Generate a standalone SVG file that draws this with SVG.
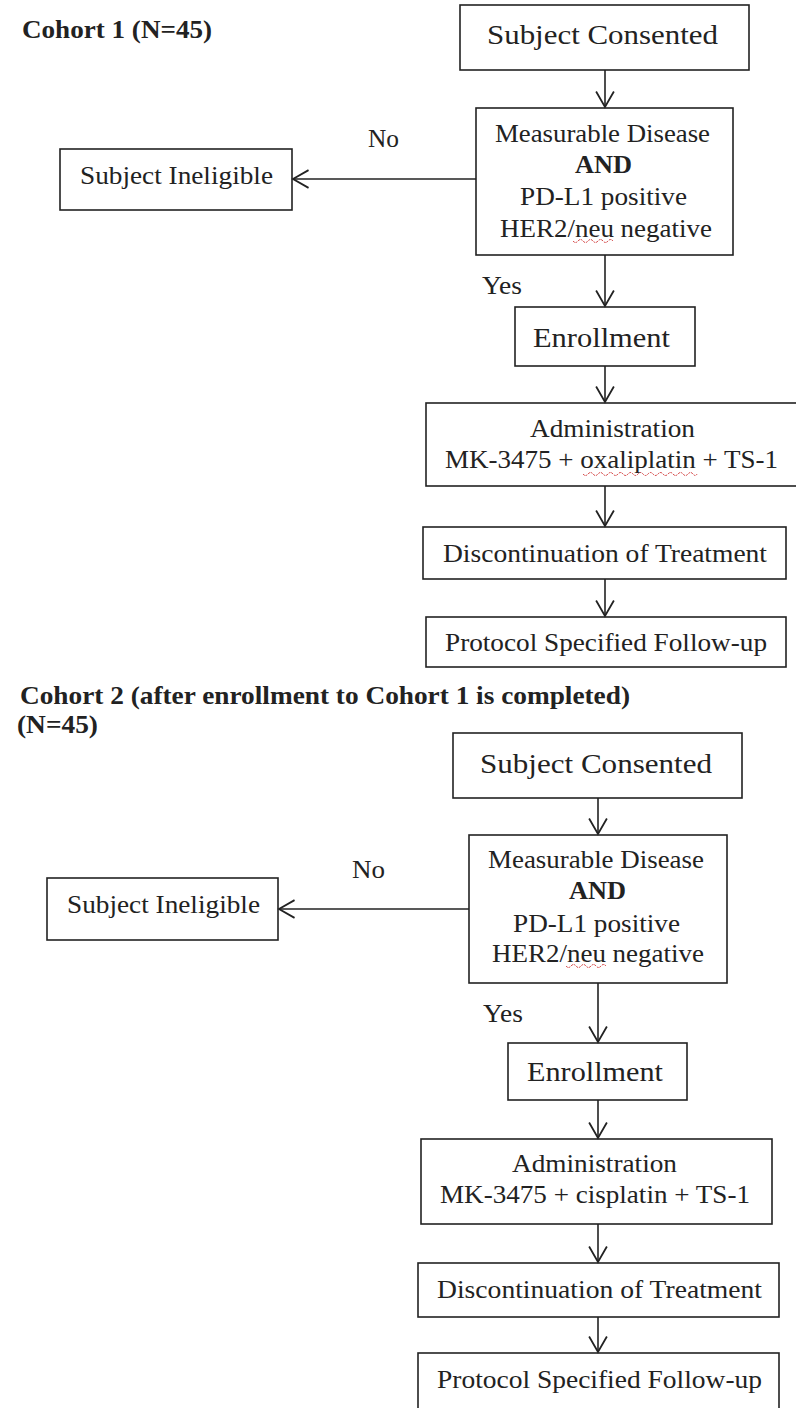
<svg xmlns="http://www.w3.org/2000/svg" width="796" height="1408" viewBox="0 0 796 1408">
<style>
  .box{fill:#fff;stroke:#222;stroke-width:1.6}
  .t{font-family:"Liberation Serif","Times New Roman",serif;font-size:26px;fill:#222}
  .big{font-size:28px}
  .b{font-weight:bold}
  .title{font-family:"Liberation Serif","Times New Roman",serif;font-size:26px;font-weight:bold;fill:#222}
  .c{fill:none;stroke:#222;stroke-width:1.6}
  .sq{fill:none;stroke:#d23a3a;stroke-width:1;stroke-dasharray:2 1}
</style>
<defs>
  <marker id="v" markerUnits="userSpaceOnUse" markerWidth="20" markerHeight="20" viewBox="0 0 16 18" refX="15" refY="9" orient="auto">
    <path d="M1,1 L15,9 L1,17" fill="none" stroke="#222" stroke-width="1.6"/>
  </marker>
</defs>
<rect width="796" height="1408" fill="#fff"/>

<!-- Cohort 1 -->
<g id="title1"><text class="title" x="22" y="38" textLength="190" lengthAdjust="spacingAndGlyphs">Cohort 1 (N=45)</text></g>

<g id="c1-consent">
  <rect class="box" x="460" y="5" width="289" height="65"/>
  <text class="t big" x="487" y="44" textLength="231" lengthAdjust="spacingAndGlyphs">Subject Consented</text>
</g>
<g id="c1-criteria">
  <rect class="box" x="476" y="108" width="257" height="147"/>
  <text class="t" x="495" y="142" textLength="215" lengthAdjust="spacingAndGlyphs">Measurable Disease</text>
  <text class="t b" x="575" y="173" textLength="57" lengthAdjust="spacingAndGlyphs">AND</text>
  <text class="t" x="520" y="205" textLength="167" lengthAdjust="spacingAndGlyphs">PD-L1 positive</text>
  <text class="t" x="500" y="237" textLength="212" lengthAdjust="spacingAndGlyphs">HER2/neu negative</text>
  <path class="sq" d="M573,241 q2.5,3 5,0 t5,0 t5,0 t5,0 t5,0 t5,0 t5,0 t5,0"/>
</g>
<g id="c1-ineligible">
  <rect class="box" x="60" y="149" width="232" height="61"/>
  <text class="t" x="80" y="184" textLength="193" lengthAdjust="spacingAndGlyphs">Subject Ineligible</text>
</g>
<g id="c1-enroll">
  <rect class="box" x="515" y="307" width="180" height="59"/>
  <text class="t big" x="533" y="347" textLength="137" lengthAdjust="spacingAndGlyphs">Enrollment</text>
</g>
<g id="c1-admin">
  <rect class="box" x="426" y="403" width="372" height="83"/>
  <text class="t" x="530" y="437" textLength="165" lengthAdjust="spacingAndGlyphs">Administration</text>
  <text class="t" x="445" y="468" textLength="333" lengthAdjust="spacingAndGlyphs">MK-3475 + oxaliplatin + TS-1</text>
  <path class="sq" d="M583,474 q2.5,3 5,0 t5,0 t5,0 t5,0 t5,0 t5,0 t5,0 t5,0 t5,0 t5,0 t5,0 t5,0 t5,0 t5,0 t5,0 t5,0 t5,0 t5,0 t5,0 t5,0 t5,0 t5,0 t4,0"/>
</g>
<g id="c1-discont">
  <rect class="box" x="423" y="527" width="363" height="52"/>
  <text class="t" x="443" y="562" textLength="324" lengthAdjust="spacingAndGlyphs">Discontinuation of Treatment</text>
</g>
<g id="c1-followup">
  <rect class="box" x="426" y="617" width="360" height="50"/>
  <text class="t" x="445" y="651" textLength="322" lengthAdjust="spacingAndGlyphs">Protocol Specified Follow-up</text>
</g>

<!-- Cohort 2 -->
<g id="title2">
  <text class="title" x="20" y="704" textLength="610" lengthAdjust="spacingAndGlyphs">Cohort 2 (after enrollment to Cohort 1 is completed)</text>
  <text class="title" x="17" y="733" textLength="81" lengthAdjust="spacingAndGlyphs">(N=45)</text>
</g>
<g id="c2-consent">
  <rect class="box" x="453" y="733" width="289" height="65"/>
  <text class="t big" x="480" y="773" textLength="232" lengthAdjust="spacingAndGlyphs">Subject Consented</text>
</g>
<g id="c2-criteria">
  <rect class="box" x="469" y="835" width="258" height="148"/>
  <text class="t" x="488" y="868" textLength="216" lengthAdjust="spacingAndGlyphs">Measurable Disease</text>
  <text class="t b" x="569" y="899" textLength="57" lengthAdjust="spacingAndGlyphs">AND</text>
  <text class="t" x="513" y="932" textLength="167" lengthAdjust="spacingAndGlyphs">PD-L1 positive</text>
  <text class="t" x="492" y="962" textLength="212" lengthAdjust="spacingAndGlyphs">HER2/neu negative</text>
  <path class="sq" d="M566,966 q2.5,3 5,0 t5,0 t5,0 t5,0 t5,0 t5,0 t5,0 t5,0"/>
</g>
<g id="c2-ineligible">
  <rect class="box" x="47" y="878" width="231" height="62"/>
  <text class="t" x="67" y="913" textLength="193" lengthAdjust="spacingAndGlyphs">Subject Ineligible</text>
</g>
<g id="c2-enroll">
  <rect class="box" x="508" y="1043" width="179" height="57"/>
  <text class="t big" x="527" y="1081" textLength="136" lengthAdjust="spacingAndGlyphs">Enrollment</text>
</g>
<g id="c2-admin">
  <rect class="box" x="421" y="1139" width="351" height="85"/>
  <text class="t" x="512" y="1172" textLength="165" lengthAdjust="spacingAndGlyphs">Administration</text>
  <text class="t" x="440" y="1203" textLength="310" lengthAdjust="spacingAndGlyphs">MK-3475 + cisplatin + TS-1</text>
</g>
<g id="c2-discont">
  <rect class="box" x="418" y="1263" width="361" height="54"/>
  <text class="t" x="437" y="1298" textLength="325" lengthAdjust="spacingAndGlyphs">Discontinuation of Treatment</text>
</g>
<g id="c2-followup">
  <rect class="box" x="418" y="1353" width="361" height="60"/>
  <text class="t" x="437" y="1388" textLength="325" lengthAdjust="spacingAndGlyphs">Protocol Specified Follow-up</text>
</g>

<!-- connectors -->
<g id="connectors">
  <path class="c" d="M605,70 V107" marker-end="url(#v)"/>
  <path class="c" d="M476,179 H293" marker-end="url(#v)"/>
  <path class="c" d="M605,255 V306" marker-end="url(#v)"/>
  <path class="c" d="M605,366 V402" marker-end="url(#v)"/>
  <path class="c" d="M605,486 V526" marker-end="url(#v)"/>
  <path class="c" d="M605,579 V616" marker-end="url(#v)"/>
  <text class="t" x="368" y="147" textLength="31" lengthAdjust="spacingAndGlyphs">No</text>
  <text class="t" x="482" y="294" textLength="40" lengthAdjust="spacingAndGlyphs">Yes</text>

  <path class="c" d="M598,798 V834" marker-end="url(#v)"/>
  <path class="c" d="M469,909 H279" marker-end="url(#v)"/>
  <path class="c" d="M598,983 V1042" marker-end="url(#v)"/>
  <path class="c" d="M598,1100 V1138" marker-end="url(#v)"/>
  <path class="c" d="M598,1224 V1262" marker-end="url(#v)"/>
  <path class="c" d="M598,1317 V1352" marker-end="url(#v)"/>
  <text class="t" x="352" y="878" textLength="33" lengthAdjust="spacingAndGlyphs">No</text>
  <text class="t" x="483" y="1022" textLength="40" lengthAdjust="spacingAndGlyphs">Yes</text>
</g>
</svg>
